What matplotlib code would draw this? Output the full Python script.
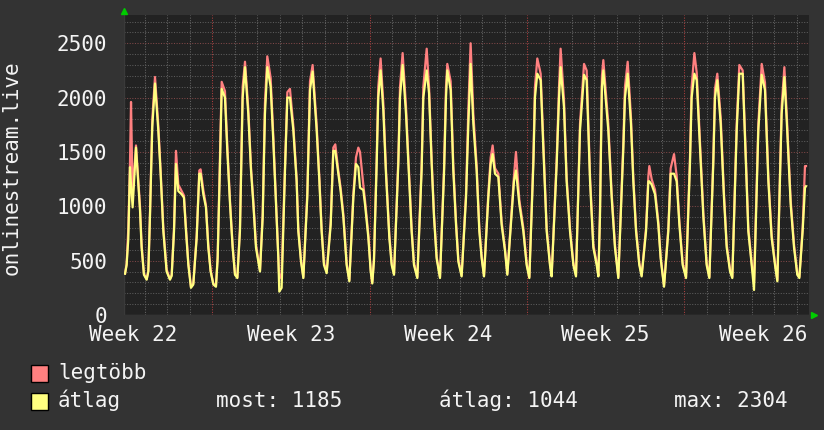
import matplotlib

matplotlib.use("Agg")
import matplotlib.pyplot as plt

# hours since Monday 00:00 of week 22
hours = [
    74.8, 76.5, 78.3, 80.1, 81.2, 82.9, 86.5, 90.8, 92.5, 95.0, 97.9, 99.7,
    101.4, 103.9, 106.8, 110.3, 112.8, 115.7, 119.2, 122.8, 124.6,
    127.1, 129.2, 131.7, 135.3, 137.7, 139.9, 142.4, 145.2, 147.7,
    151.3, 154.1, 155.5, 158.4, 161.2, 163.7, 166.2, 169.1, 171.9,
    173.7, 176.2, 178.0, 181.5, 184.0, 186.9, 189.7, 192.2, 194.7,
    197.5, 200.4, 202.9, 206.4, 209.3, 211.8, 214.6, 217.1, 218.9,
    221.8, 224.2, 226.7, 230.3, 233.1, 236.0, 238.5, 239.5, 242.0,
    245.6, 248.1, 250.9, 254.5, 258.0, 259.8, 262.7, 265.2,
    269.4, 272.3, 275.1, 279.4, 282.3, 284.7, 287.2, 290.1,
    294.4, 297.2, 299.3, 302.5, 305.0, 307.9, 311.4, 314.3,
    318.6, 321.4, 323.9, 325.7, 329.2, 331.0, 334.6, 337.1, 338.8,
    340.6, 343.5, 345.2, 347.7, 350.6, 353.4, 357.0, 359.5, 362.0,
    366.6, 368.4, 371.2, 374.8, 378.3, 380.8, 383.3, 386.9,
    391.5, 393.3, 396.9, 399.4, 402.2, 404.7, 407.5, 411.1,
    415.4, 417.5, 418.9, 422.5, 425.3, 428.2, 430.7, 434.2,
    438.9, 441.4, 443.8, 446.7, 450.2, 453.1, 455.6, 458.1,
    462.7, 465.2, 467.3, 469.8, 473.4, 476.9, 480.5, 483.0,
    487.6, 490.1, 492.2, 495.8, 500.1, 503.6, 506.5,
    510.8, 512.5, 515.0, 518.6, 521.4, 525.0, 528.5, 530.3,
    535.7, 538.2, 539.9, 543.5, 546.3, 549.9, 553.5, 556.3,
    560.6, 564.9, 567.7, 571.3, 574.8, 578.4, 580.2,
    581.9, 584.0, 585.5, 590.8, 594.4, 597.9, 601.5,
    606.9, 608.6, 611.5, 615.0, 617.5, 620.4, 623.9, 626.4,
    631.1, 633.6, 634.6, 637.1, 640.7, 644.2, 646.7, 650.3,
    654.9, 657.4, 661.0, 663.8, 666.7, 670.2, 673.8,
    678.0, 679.8, 682.7, 685.2, 688.7, 692.3, 695.8, 698.7,
    702.9, 704.7, 707.2, 710.8, 714.3, 717.2, 720.8, 723.2,
    727.9, 730.7, 734.3, 737.8, 740.3, 743.9, 746.4,
    751.0, 754.6, 758.1, 761.7, 765.2, 768.8, 771.3,
    775.9, 778.8, 781.3, 785.5, 789.1, 792.6, 794.8,
    798.3, 800.8, 801.9,
]

atlag = [
    380, 460, 700, 1360, 1200, 990, 1540, 960, 620, 370, 325, 400,
    900, 1730, 2130, 1700, 1300, 770, 400, 325, 360,
    770, 1390, 1140, 1110, 1080, 770, 460, 250, 280,
    710, 1300, 1300, 1110, 990, 620, 400, 280, 260,
    520, 1390, 2080, 2000, 1510, 1020, 620, 370, 340,
    770, 2000, 2280, 1850, 1330, 1020, 620, 490, 400,
    900, 1850, 2280, 2100, 1600, 1020, 520, 215, 250,
    1330, 2000, 2000, 1700, 1230, 770, 490, 340,
    1080, 2070, 2240, 1700, 1230, 770, 460, 385,
    830, 1510, 1510, 1300, 1140, 900, 460, 310,
    1080, 1390, 1360, 1170, 1150, 1020, 710, 400, 290,
    500, 1390, 2000, 2250, 1880, 1300, 710, 460, 370,
    1390, 2000, 2300, 1850, 1230, 770, 460, 340,
    1330, 2000, 2250, 2040, 1390, 900, 520, 340,
    1300, 2000, 2250, 2070, 1330, 830, 490, 355,
    1080, 1760, 2310, 1760, 1330, 770, 520, 355,
    1080, 1390, 1480, 1300, 1270, 830, 590, 370,
    930, 1230, 1330, 1020, 770, 460, 340,
    1390, 2000, 2220, 2160, 1540, 770, 460, 355,
    1390, 2000, 2280, 1910, 1230, 770, 460, 355,
    1700, 2210, 2160, 1230, 620, 460, 355,
    900, 2100, 2250, 1700, 1080, 620, 340,
    1540, 2000, 2220, 1760, 1230, 770, 460, 355,
    770, 1230, 1230, 1200, 1110, 830, 520, 260,
    770, 1300, 1300, 1230, 830, 460, 340,
    1390, 2000, 2220, 2160, 1540, 900, 460, 340,
    1390, 2000, 2160, 1760, 1080, 620, 400, 340,
    1700, 2220, 2220, 1390, 770, 460, 230,
    1700, 2210, 2070, 1230, 710, 460, 310,
    1850, 2190, 1790, 1020, 620, 370, 340,
    770, 1170, 1185,
]

legtobb = [
    380, 470, 800, 1400, 1960, 1100, 1560, 1000, 650, 380, 330, 410,
    920, 1800, 2190, 1750, 1330, 800, 420, 330, 370,
    800, 1510, 1200, 1140, 1100, 800, 480, 260, 290,
    730, 1330, 1340, 1150, 1010, 650, 410, 290, 270,
    540, 1450, 2145, 2060, 1560, 1050, 640, 380, 345,
    800, 2100, 2330, 1900, 1360, 1050, 650, 510, 410,
    940, 1950, 2380, 2180, 1650, 1060, 560, 330, 380,
    1380, 2050, 2080, 1740, 1260, 800, 510, 350,
    1120, 2150, 2300, 1750, 1260, 800, 480, 400,
    860, 1540, 1570, 1330, 1170, 930, 480, 320,
    1120, 1450, 1540, 1500, 1200, 1060, 740, 420, 300,
    520, 1450, 2100, 2360, 1950, 1340, 740, 480, 380,
    1440, 2100, 2410, 1920, 1270, 800, 480, 350,
    1380, 2100, 2450, 2100, 1430, 930, 540, 350,
    1350, 2100, 2310, 2150, 1380, 860, 510, 365,
    1120, 1900, 2500, 1850, 1380, 800, 540, 365,
    1120, 1450, 1560, 1350, 1300, 860, 610, 380,
    960, 1280, 1500, 1060, 800, 480, 350,
    1450, 2100, 2360, 2220, 1600, 800, 480, 365,
    1440, 2100, 2450, 1980, 1270, 800, 480, 365,
    1760, 2310, 2250, 1280, 650, 480, 365,
    950, 2200, 2345, 1760, 1120, 650, 350,
    1600, 2100, 2330, 1820, 1270, 800, 480, 365,
    800, 1280, 1370, 1250, 1150, 860, 540, 270,
    800, 1350, 1480, 1280, 860, 480, 350,
    1450, 2100, 2410, 2230, 1600, 940, 480, 350,
    1440, 2080, 2220, 1820, 1120, 650, 420, 350,
    1760, 2300, 2250, 1430, 800, 480, 300,
    1760, 2310, 2140, 1270, 740, 480, 320,
    1920, 2280, 1850, 1060, 650, 380, 350,
    800, 1370, 1370,
]

week_labels = ["Week 22", "Week 23", "Week 24", "Week 25", "Week 26"]
y_ticks = [0, 500, 1000, 1500, 2000, 2500]
stats = {"most": 1185, "átlag": 1044, "max": 2304}

W, H = 824, 430
BG, PLOT_BG, FG = "#333333", "#222222", "#f4f4f4"
RED, YELLOW = "#ff8080", "#ffff80"
MONO = "DejaVu Sans Mono"
FS = 15

fig = plt.figure(figsize=(W / 100, H / 100), dpi=100, facecolor=BG)
left, right, top, bottom = 124, 809, 15, 315
ax = fig.add_axes([left / W, 1 - bottom / H, (right - left) / W, (bottom - top) / H])
ax.set_facecolor(PLOT_BG)

x0 = 73.7
x1 = 805.1
ax.set_xlim(x0, x1)
ax.set_ylim(0, 2760)

# rrdtool-style dotted grid: minor per day / 100, major per week / 500
dots = (0, (1, 1.5))
for h in range(96, 805, 24):
    major = h % 168 == 0
    ax.axvline(h, color="#b04040" if major else "#666666", lw=0.75, ls=dots, zorder=1)
for v in range(100, 2760, 100):
    major = v % 500 == 0
    ax.axhline(v, color="#804848" if major else "#5c5c5c", lw=0.75, ls=dots, zorder=1)

ax.plot(hours, legtobb, color=RED, lw=1.6, zorder=3)
ax.plot(hours, atlag, color=YELLOW, lw=1.6, zorder=4)

ax.set_xticks([84 + 168 * i for i in range(len(week_labels))])
ax.set_xticklabels(week_labels)
ax.set_yticks(y_ticks)
ax.tick_params(axis="x", length=0, pad=7, colors=FG, labelsize=FS)
ax.tick_params(axis="y", length=0, pad=12, colors=FG, labelsize=FS)
for lab in ax.get_xticklabels() + ax.get_yticklabels():
    lab.set_family(MONO)
for s in ax.spines.values():
    s.set_visible(False)
ax.axhline(0, color="#444444", lw=1, zorder=2)
ax.axvline(x0, color="#3a3a3a", lw=1, zorder=2)

fig.text(12 / W, 1 - 168 / H, "onlinestream.live", rotation=90, ha="center",
         va="center", color=FG, fontsize=FS, family=MONO)

# green arrow heads at the axis ends
fig.add_artist(plt.Line2D([124.5 / W], [1 - 10.5 / H], marker="^", ms=5,
                          color="#00cc00", ls="none"))
fig.add_artist(plt.Line2D([813.5 / W], [1 - 314.5 / H], marker=">", ms=5,
                          color="#00cc00", ls="none"))

# legend
for ytop, col, name in [(365, RED, "legtöbb"), (393, YELLOW, "átlag")]:
    fig.add_artist(plt.Rectangle((31 / W, 1 - (ytop + 17) / H), 17 / W, 17 / H,
                                 facecolor=col, edgecolor="black", lw=1))
    fig.text(58 / W, 1 - (ytop + 14) / H, name, color=FG, fontsize=FS,
             family=MONO, va="baseline")
for xpos, (k, v) in zip([216, 439, 674], stats.items()):
    fig.text(xpos / W, 1 - 407 / H, f"{k}: {v}", color=FG, fontsize=FS,
             family=MONO, va="baseline")

fig.savefig("out.png", dpi=100, facecolor=BG)
